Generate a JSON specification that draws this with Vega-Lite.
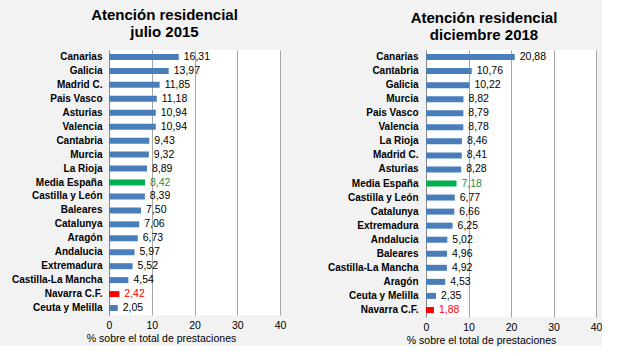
{
  "$schema": "https://vega.github.io/schema/vega-lite/v6.json",
  "background": "#f2f2f2",
  "padding": {"left": 11, "top": 8, "right": 0, "bottom": 0},
  "spacing": 41,
  "config": {
    "font": "Liberation Sans",
    "view": {"fill": "#ffffff", "stroke": null},
    "locale": {"number": {"decimal": ",", "thousands": ".", "grouping": [3], "currency": ["", " €"]}},
    "axisY": {"labelFontWeight": "bold", "labelFontSize": 10, "labelColor": "#000000", "labelPadding": 7, "ticks": false, "domainColor": "#888888", "grid": false, "title": null, "labelLimit": 200},
    "axisX": {"domain": false, "ticks": false, "grid": true, "gridColor": "#a6a6a6", "labelFlush": false, "labelPadding": 5, "labelFontSize": 10.5, "labelColor": "#000000", "titleFontWeight": "normal", "titleFontSize": 10.5, "titleColor": "#000000", "titlePadding": 3, "values": [0, 10, 20, 30, 40]},
    "title": {"fontSize": 15, "fontWeight": "bold", "color": "#000000", "lineHeight": 17, "anchor": "middle"}
  },
  "datasets": {
    "jul2015": [
      {"region": "Canarias", "valor": 16.31, "tipo": "ccaa"},
      {"region": "Galicia", "valor": 13.97, "tipo": "ccaa"},
      {"region": "Madrid  C.", "valor": 11.85, "tipo": "ccaa"},
      {"region": "Pais Vasco", "valor": 11.18, "tipo": "ccaa"},
      {"region": "Asturias", "valor": 10.94, "tipo": "ccaa"},
      {"region": "Valencia", "valor": 10.94, "tipo": "ccaa"},
      {"region": "Cantabria", "valor": 9.43, "tipo": "ccaa"},
      {"region": "Murcia", "valor": 9.32, "tipo": "ccaa"},
      {"region": "La Rioja", "valor": 8.89, "tipo": "ccaa"},
      {"region": "Media España", "valor": 8.42, "tipo": "media"},
      {"region": "Castilla y León", "valor": 8.39, "tipo": "ccaa"},
      {"region": "Baleares", "valor": 7.50, "tipo": "ccaa"},
      {"region": "Catalunya", "valor": 7.06, "tipo": "ccaa"},
      {"region": "Aragón", "valor": 6.73, "tipo": "ccaa"},
      {"region": "Andalucia", "valor": 5.97, "tipo": "ccaa"},
      {"region": "Extremadura", "valor": 5.52, "tipo": "ccaa"},
      {"region": "Castilla-La Mancha", "valor": 4.54, "tipo": "ccaa"},
      {"region": "Navarra C.F.", "valor": 2.42, "tipo": "navarra"},
      {"region": "Ceuta y Melilla", "valor": 2.05, "tipo": "ccaa"}
    ],
    "dic2018": [
      {"region": "Canarias", "valor": 20.88, "tipo": "ccaa"},
      {"region": "Cantabria", "valor": 10.76, "tipo": "ccaa"},
      {"region": "Galicia", "valor": 10.22, "tipo": "ccaa"},
      {"region": "Murcia", "valor": 8.82, "tipo": "ccaa"},
      {"region": "Pais Vasco", "valor": 8.79, "tipo": "ccaa"},
      {"region": "Valencia", "valor": 8.78, "tipo": "ccaa"},
      {"region": "La Rioja", "valor": 8.46, "tipo": "ccaa"},
      {"region": "Madrid  C.", "valor": 8.41, "tipo": "ccaa"},
      {"region": "Asturias", "valor": 8.28, "tipo": "ccaa"},
      {"region": "Media España", "valor": 7.18, "tipo": "media"},
      {"region": "Castilla y León", "valor": 6.77, "tipo": "ccaa"},
      {"region": "Catalunya", "valor": 6.66, "tipo": "ccaa"},
      {"region": "Extremadura", "valor": 6.25, "tipo": "ccaa"},
      {"region": "Andalucia", "valor": 5.02, "tipo": "ccaa"},
      {"region": "Baleares", "valor": 4.96, "tipo": "ccaa"},
      {"region": "Castilla-La Mancha", "valor": 4.92, "tipo": "ccaa"},
      {"region": "Aragón", "valor": 4.53, "tipo": "ccaa"},
      {"region": "Ceuta y Melilla", "valor": 2.35, "tipo": "ccaa"},
      {"region": "Navarra C.F.", "valor": 1.88, "tipo": "navarra"}
    ]
  },
  "hconcat": [
    {
      "width": 171,
      "height": 265,
      "title": {"text": ["Atención residencial", "julio  2015"], "dx": -30, "offset": 10},
      "data": {"name": "jul2015"},
      "encoding": {
        "y": {"field": "region", "type": "nominal", "sort": null},
        "x": {"field": "valor", "type": "quantitative", "scale": {"domain": [0, 40], "nice": false}, "axis": {"title": "% sobre el total  de prestaciones", "titleX": 52, "titleAlign": "center"}}
      },
      "layer": [
        {"mark": {"type": "bar", "size": 6}, "encoding": {"color": {"field": "tipo", "type": "nominal", "scale": {"domain": ["ccaa", "media", "navarra"], "range": ["#4a7ebb", "#00b050", "#ff0000"]}, "legend": null}}},
        {"mark": {"type": "text", "align": "left", "baseline": "middle", "dx": 5, "fontSize": 10.5}, "encoding": {"text": {"field": "valor", "type": "quantitative", "format": ".2f"}, "color": {"field": "tipo", "type": "nominal", "scale": {"domain": ["ccaa", "media", "navarra"], "range": ["#000000", "#2e8b3e", "#ff0000"]}, "legend": null}}}
      ],
      "resolve": {"scale": {"color": "independent"}}
    },
    {
      "width": 170,
      "height": 267,
      "title": {"text": ["Atención residencial", "diciembre 2018"], "dx": -27, "offset": 7},
      "data": {"name": "dic2018"},
      "encoding": {
        "y": {"field": "region", "type": "nominal", "sort": null, "axis": {"labelPadding": 8}},
        "x": {"field": "valor", "type": "quantitative", "scale": {"domain": [0, 40], "nice": false}, "axis": {"title": "% sobre el total  de prestaciones", "titleX": 55, "titleAlign": "center"}}
      },
      "layer": [
        {"mark": {"type": "bar", "size": 6}, "encoding": {"color": {"field": "tipo", "type": "nominal", "scale": {"domain": ["ccaa", "media", "navarra"], "range": ["#4a7ebb", "#00b050", "#ff0000"]}, "legend": null}}},
        {"mark": {"type": "text", "align": "left", "baseline": "middle", "dx": 5, "fontSize": 10.5}, "encoding": {"text": {"field": "valor", "type": "quantitative", "format": ".2f"}, "color": {"field": "tipo", "type": "nominal", "scale": {"domain": ["ccaa", "media", "navarra"], "range": ["#000000", "#2e8b3e", "#ff0000"]}, "legend": null}}}
      ],
      "resolve": {"scale": {"color": "independent"}}
    }
  ]
}
